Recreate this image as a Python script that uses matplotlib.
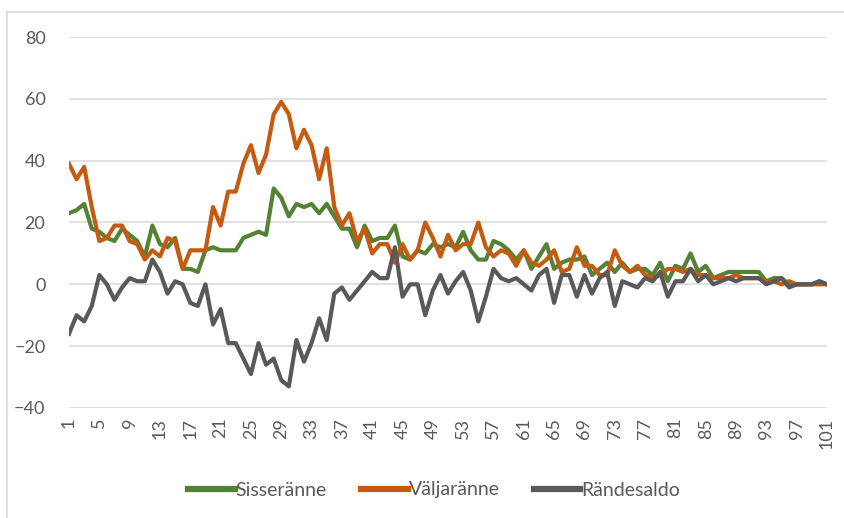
import matplotlib
matplotlib.use("Agg")
import matplotlib.pyplot as plt
from matplotlib.lines import Line2D

# migration per age (1..101)
ages = list(range(1, 102))

sisseranne = [
    23, 24, 26, 18, 17, 15, 14, 18, 16, 14,
    9, 19, 13, 12, 15, 5, 5, 4, 11, 12,
    11, 11, 11, 15, 16, 17, 16, 31, 28, 22,
    26, 25, 26, 23, 26, 22, 18, 18, 12, 19,
    14, 15, 15, 19, 9, 8, 11, 10, 13, 12,
    13, 12, 17, 11, 8, 8, 14, 13, 11, 8,
    11, 5, 9, 13, 5, 7, 8, 8, 9, 3,
    5, 7, 4, 7, 4, 5, 5, 3, 7, 1,
    6, 5, 10, 4, 6, 2, 3, 4, 4, 4,
    4, 4, 1, 2, 2, 0, 0, 0, 0, 1, 0,
]
valjaranne = [
    39, 34, 38, 25, 14, 15, 19, 19, 14, 13,
    8, 11, 9, 15, 14, 5, 11, 11, 11, 25,
    19, 30, 30, 39, 45, 36, 42, 55, 59, 55,
    44, 50, 45, 34, 44, 25, 19, 23, 14, 18,
    10, 13, 13, 7, 13, 8, 11, 20, 15, 9,
    16, 11, 13, 13, 20, 12, 9, 11, 10, 6,
    11, 7, 6, 8, 11, 4, 5, 12, 6, 6,
    3, 3, 11, 6, 4, 6, 3, 2, 3, 5,
    5, 4, 5, 3, 3, 2, 2, 2, 3, 2,
    2, 2, 1, 1, 0, 1, 0, 0, 0, 0, 0,
]
randesaldo = [
    -16, -10, -12, -7, 3, 0, -5, -1, 2, 1,
    1, 8, 4, -3, 1, 0, -6, -7, 0, -13,
    -8, -19, -19, -24, -29, -19, -26, -24, -31, -33,
    -18, -25, -19, -11, -18, -3, -1, -5, -2, 1,
    4, 2, 2, 12, -4, 0, 0, -10, -2, 3,
    -3, 1, 4, -2, -12, -4, 5, 2, 1, 2,
    0, -2, 3, 5, -6, 3, 3, -4, 3, -3,
    2, 4, -7, 1, 0, -1, 2, 1, 4, -4,
    1, 1, 5, 1, 3, 0, 1, 2, 1, 2,
    2, 2, 0, 1, 2, -1, 0, 0, 0, 1, 0,
]

series_names = ["Sisseränne", "Väljaränne", "Rändesaldo"]
colors = ["#548235", "#C55A11", "#595959"]
yticks = [-40, -20, 0, 20, 40, 60, 80]
xticks = ages[::4]

plt.rcParams["font.family"] = ["Lato", "DejaVu Sans"]
text_color = "#595959"

fig = plt.figure(figsize=(8.44, 5.18), dpi=100)
ax = fig.add_axes([69 / 844, 1 - 408 / 518, (827 - 69) / 844, (408 - 37) / 518])

for vals, name, c in zip([sisseranne, valjaranne, randesaldo], series_names, colors):
    ax.plot(ages, vals, color=c, lw=3.0, label=name, solid_joinstyle="round")

ax.set_xlim(1, 101)
ax.set_ylim(-40, 80)
ax.set_yticks(yticks)
ax.set_xticks(xticks)
ax.set_xticklabels([str(x) for x in xticks], rotation=90)
ax.grid(axis="y", color="#D9D9D9", lw=1.1)
ax.set_axisbelow(True)
for s in ax.spines.values():
    s.set_visible(False)
ax.tick_params(length=0, colors=text_color, labelsize=13)
ax.tick_params(axis="y", pad=17)
ax.tick_params(axis="x", pad=7)

leg = fig.legend(loc="center", bbox_to_anchor=(434 / 844, 1 - 490 / 518), ncol=3,
                 frameon=False, fontsize=14, handlelength=2.4, handletextpad=0.05,
                 columnspacing=1.75)
for t in leg.get_texts():
    t.set_color(text_color)
for h in leg.legend_handles:
    h.set_linewidth(4.5)

# chart border (left and top visible in the crop)
fig.add_artist(Line2D([7 / 844, 7 / 844], [0, 1 - 12 / 518], color="#D9D9D9", lw=1.2))
fig.add_artist(Line2D([7 / 844, 1], [1 - 12 / 518, 1 - 12 / 518], color="#D9D9D9", lw=1.2))

fig.savefig("out.png", dpi=100, facecolor="white")
